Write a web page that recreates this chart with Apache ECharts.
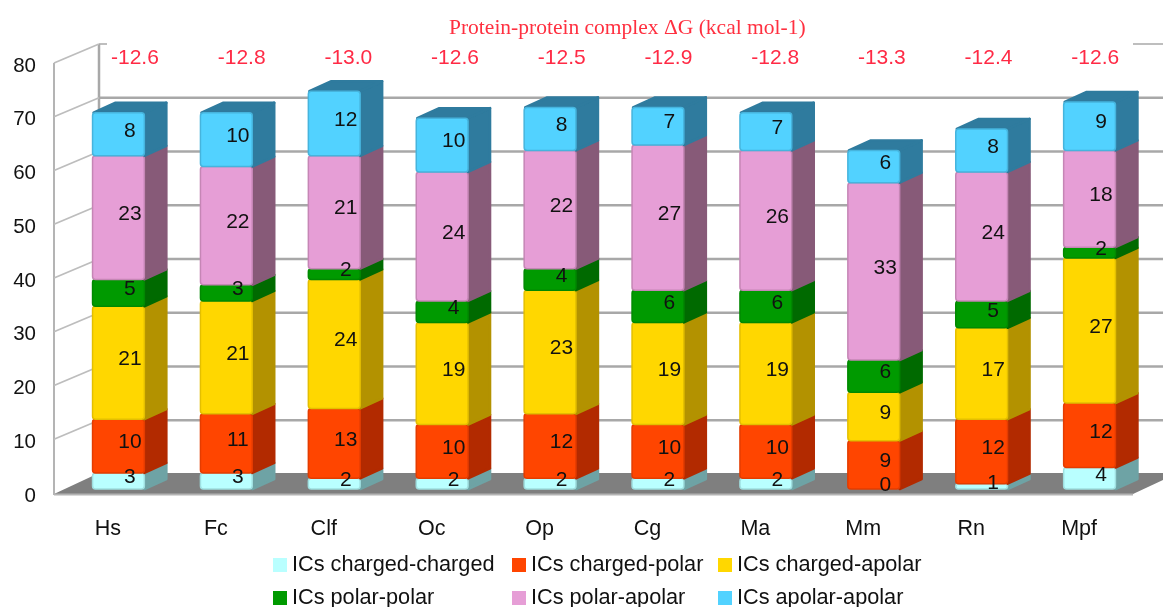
<!DOCTYPE html>
<html>
<head>
<meta charset="utf-8">
<style>html,body{margin:0;padding:0;background:#fff}#chart{width:1163px;height:607px}</style>
<script src="https://cdn.jsdelivr.net/npm/echarts@6/dist/echarts.min.js"></script>
</head>
<body>
<div id="chart"></div>
<script>
// Interface contact counts per species, stacked bottom to top
const species = ['Hs', 'Fc', 'Clf', 'Oc', 'Op', 'Cg', 'Ma', 'Mm', 'Rn', 'Mpf'];
const deltaG = ['-12.6', '-12.8', '-13.0', '-12.6', '-12.5', '-12.9', '-12.8', '-13.3', '-12.4', '-12.6'];
const chargedCharged = [3, 3, 2, 2, 2, 2, 2, 0, 1, 4];
const chargedPolar = [10, 11, 13, 10, 12, 10, 10, 9, 12, 12];
const chargedApolar = [21, 21, 24, 19, 23, 19, 19, 9, 17, 27];
const polarPolar = [5, 3, 2, 4, 4, 6, 6, 6, 5, 2];
const polarApolar = [23, 22, 21, 24, 22, 27, 26, 33, 24, 18];
const apolarApolar = [8, 10, 12, 10, 8, 7, 7, 6, 8, 9];
const yTicks = [0, 10, 20, 30, 40, 50, 60, 70, 80];

const stacks = [
  { name: 'ICs charged-charged', values: chargedCharged, front: '#b9ffff', side: '#6ea3a5' },
  { name: 'ICs charged-polar', values: chargedPolar, front: '#ff4500', side: '#b22a00' },
  { name: 'ICs charged-apolar', values: chargedApolar, front: '#ffd700', side: '#b39200' },
  { name: 'ICs polar-polar', values: polarPolar, front: '#009a00', side: '#006a00' },
  { name: 'ICs polar-apolar', values: polarApolar, front: '#e69ed6', side: '#875a78' },
  { name: 'ICs apolar-apolar', values: apolarApolar, front: '#52d2ff', side: '#2f7b9e' }
];

// Pixel offsets of the pseudo-3D projection
const WALL = [45, -19];
const BAR_SHIFT = [10.5, -4];
const BAR_DEPTH = [23, -11];
const BAR_RATIO = 0.48;

function mix(a, b, t) {
  const p = c => [1, 3, 5].map(i => parseInt(c.substr(i, 2), 16));
  const x = p(a), y = p(b);
  return 'rgb(' + x.map((v, i) => Math.round(v * (1 - t) + y[i] * t)).join(',') + ')';
}

function renderWall(params, api) {
  const v = api.value(0);
  const band = api.size([1, 0])[0];
  const p0 = api.coord([0, v]);
  const pN = api.coord([species.length - 1, v]);
  const left = p0[0] - band / 2;
  const right = pN[0] + band / 2;
  const y = p0[1];
  const children = [];
  const seg = (x1, y1, x2, y2, color, width) => children.push({
    type: 'line', shape: { x1, y1, x2, y2 }, style: { stroke: color, lineWidth: width }
  });
  if (v === 0) {
    children.push({
      type: 'polygon',
      shape: { points: [[left, y + 1], [right, y + 1], [right + WALL[0], y - 20], [left + WALL[0], y - 20]] },
      style: { fill: '#7f7f7f' }
    });
    seg(left, y + 1.5, right, y + 1.5, '#b4b4b4', 2);
    seg(left, y + 2, left, api.coord([0, 80])[1], '#b4b4b4', 2);
    seg(left + WALL[0], y - 20, left + WALL[0], api.coord([0, 80])[1] + WALL[1], '#a8a8a8', 2.5);
  } else {
    seg(left, y, left + WALL[0], y + WALL[1], '#bdbdbd', 1.8);
    if (v === yTicks[yTicks.length - 1]) {
      seg(left + WALL[0], y + WALL[1], left + WALL[0] + 8, y + WALL[1], '#a8a8a8', 1.5);
      seg(right, y + WALL[1], right + WALL[0], y + WALL[1], '#a8a8a8', 1.5);
    } else {
      seg(left + WALL[0], y + WALL[1], right + WALL[0], y + WALL[1], '#a8a8a8', 2.5);
    }
  }
  return { type: 'group', children };
}

function makeBarRenderer(stack, isTop) {
  return function (params, api) {
    const cat = api.value(0);
    const lo = api.value(1);
    const hi = api.value(2);
    const count = api.value(3);
    const band = api.size([1, 0])[0];
    const w = band * BAR_RATIO;
    const pLo = api.coord([cat, lo]);
    const pHi = api.coord([cat, hi]);
    const L = pLo[0] + BAR_SHIFT[0] - w / 2;
    const R = L + w;
    const yB = pLo[1] + BAR_SHIFT[1];
    const yT = pHi[1] + BAR_SHIFT[1];
    const [dx, dy] = BAR_DEPTH;
    const children = [];
    if (yB - yT > 0.1) {
      children.push({
        type: 'polygon',
        shape: { points: [[R, yT], [R + dx - 1, yT + dy + 1], [R + dx - 1, yB + dy + 1], [R, yB]] },
        style: { fill: stack.side, stroke: stack.side, lineWidth: 2.5, lineJoin: 'round' }
      });
      if (isTop) {
        children.push({
          type: 'polygon',
          shape: { points: [[L + 1, yT], [L + dx, yT + dy + 1], [R + dx - 1, yT + dy + 1], [R, yT]] },
          style: { fill: stack.side, stroke: stack.side, lineWidth: 2.5, lineJoin: 'round' }
        });
      }
      children.push({
        type: 'rect',
        shape: { x: L, y: yT, width: w, height: yB - yT, r: 3 },
        style: { fill: stack.front, stroke: mix(stack.front, stack.side, 0.35), lineWidth: 1.5 }
      });
    }
    children.push({
      type: 'text',
      z2: 100,
      style: {
        x: (L + R + dx) / 2,
        y: (yB + yT + dy) / 2 + 2,
        text: String(count),
        fill: '#111',
        font: '21px "Liberation Sans", Arial, sans-serif',
        align: 'center',
        verticalAlign: 'middle'
      }
    });
    return { type: 'group', children };
  };
}

const running = species.map(() => 0);
const barSeries = stacks.map((stack, si) => ({
  name: stack.name,
  type: 'custom',
  coordinateSystem: 'cartesian2d',
  z: 3,
  silent: true,
  itemStyle: { color: stack.front },
  renderItem: makeBarRenderer(stack, si === stacks.length - 1),
  encode: { x: 0, y: 2 },
  data: stack.values.map((val, i) => {
    const row = [i, running[i], running[i] + val, val];
    running[i] += val;
    return row;
  })
}));

// One legend box per entry so the three columns stay aligned over two rows
const legendFont = { fontFamily: '"Liberation Sans", Arial, sans-serif', fontSize: 21.7, color: '#111' };
const legendColumns = [273, 512, 718];
const legendRows = [554, 587];
const legendEntries = stacks.map((stack, i) => ({
  left: legendColumns[i % 3],
  top: legendRows[i < 3 ? 0 : 1],
  icon: 'rect', itemWidth: 14, itemHeight: 14, padding: 0,
  data: [stack.name], textStyle: legendFont, selectedMode: false
}));

const chart = echarts.init(document.getElementById('chart'), null, { renderer: 'canvas' });
chart.setOption({
  animation: false,
  backgroundColor: '#fff',
  title: {
    text: 'Protein-protein complex \u0394G (kcal mol-1)',
    left: 449, top: 17, padding: 0,
    textStyle: { fontFamily: '"Liberation Serif", "Times New Roman", serif', fontSize: 21.5, fontWeight: 'normal', color: '#ff3040' }
  },
  legend: legendEntries,
  grid: [
    { left: 54, top: 63, width: 1079, height: 430 },
    { left: 81.6, top: 63, width: 1067, height: 430 }
  ],
  xAxis: [
    {
      type: 'category', data: species, gridIndex: 0,
      axisLine: { show: false }, axisTick: { show: false },
      axisLabel: { margin: 25, fontFamily: '"Liberation Sans", Arial, sans-serif', fontSize: 21.5, color: '#111' }
    },
    { type: 'category', data: deltaG, gridIndex: 1, show: false }
  ],
  yAxis: [
    {
      type: 'value', min: 0, max: 80, interval: 10, gridIndex: 0,
      axisLine: { show: false }, axisTick: { show: false }, splitLine: { show: false },
      axisLabel: { margin: 18, verticalAlign: 'top', lineHeight: 6, fontFamily: '"Liberation Sans", Arial, sans-serif', fontSize: 20.5, color: '#111' }
    },
    { type: 'value', min: 0, max: 80, interval: 10, gridIndex: 1, show: false }
  ],
  series: [
    {
      type: 'custom', coordinateSystem: 'cartesian2d', z: 1, silent: true,
      renderItem: renderWall, encode: { y: 0 }, data: yTicks.map(v => [v])
    },
    ...barSeries,
    {
      type: 'custom', coordinateSystem: 'cartesian2d', xAxisIndex: 1, yAxisIndex: 1, z: 4, silent: true,
      encode: { x: 0, y: 1 },
      data: deltaG.map((d, i) => [i, 80.8, d]),
      renderItem: (params, api) => {
        const p = api.coord([api.value(0), api.value(1)]);
        return {
          type: 'text',
          style: {
            x: p[0], y: p[1], text: deltaG[params.dataIndex], fill: '#ff2a45',
            font: '21px "Liberation Sans", Arial, sans-serif', align: 'center', verticalAlign: 'middle'
          }
        };
      }
    }
  ]
});
</script>
</body>
</html>
